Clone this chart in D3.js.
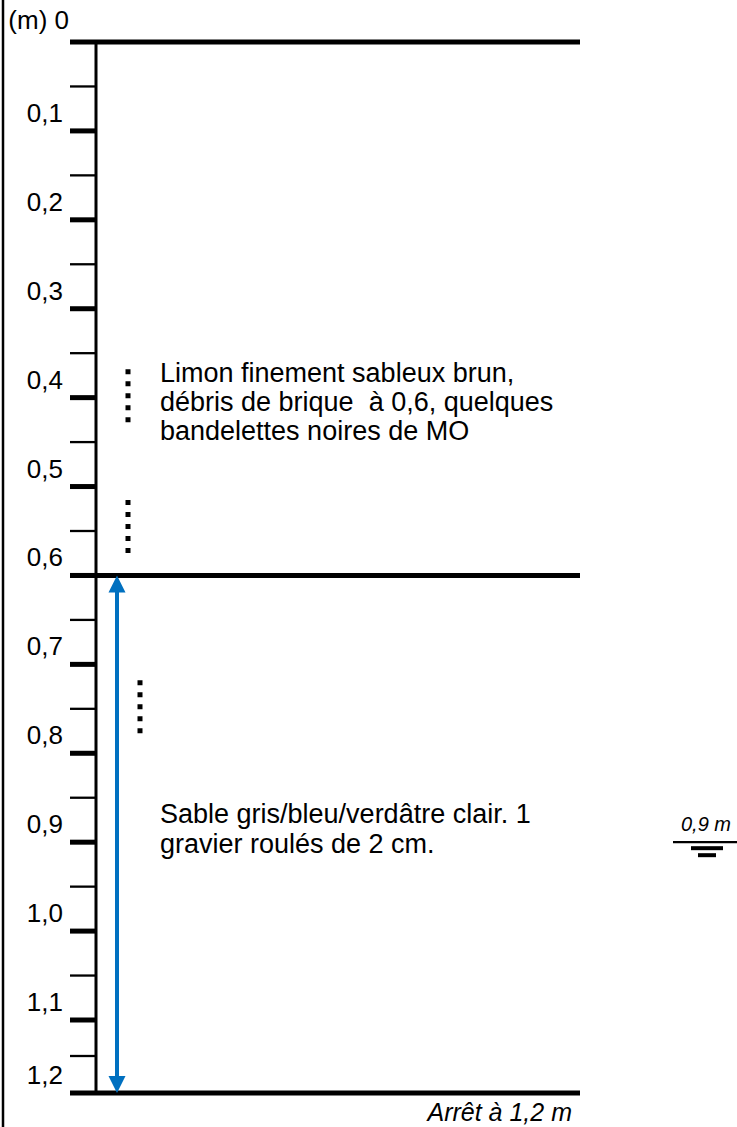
<!DOCTYPE html>
<html lang="fr">
<head>
    <meta charset="utf-8">
    <title>Log de sondage</title>
    <script type="text/javascript" src="https://d3js.org/d3.v7.min.js"></script>
    <style type="text/css">
        body { margin: 0; background: #fff; }
        svg { display: block; }
        text { font-family: "Liberation Sans", Arial, sans-serif; fill: #000; white-space: pre; }
    </style>
</head>
<body>
<script type="text/javascript">

    // depths in metres
    var majorTicks = [0.1, 0.2, 0.3, 0.4, 0.5, 0.6, 0.7, 0.8, 0.9, 1.0, 1.1];
    var minorTicks = [0.05, 0.15, 0.25, 0.35, 0.45, 0.55, 0.65, 0.75, 0.85, 0.95, 1.05, 1.15];
    var tickLabels = ["0,1", "0,2", "0,3", "0,4", "0,5", "0,6", "0,7", "0,8", "0,9", "1,0", "1,1", "1,2"];
    var labelDepths = [0.1, 0.2, 0.3, 0.4, 0.5, 0.6, 0.7, 0.8, 0.9, 1.0, 1.1, 1.2];
    var layerBounds = [0, 0.6, 1.2];
    var dotStart = [0.368, 0.515, 0.718];
    var dotEnd = [0.428, 0.575, 0.778];
    var arrowRange = [0.6, 1.2];
    var waterDepth = 0.9;
    var layer1Text = ["Limon finement sableux brun,", "débris de brique  à 0,6, quelques", "bandelettes noires de MO"];
    var layer2Text = ["Sable gris/bleu/verdâtre clair. 1", "gravier roulés de 2 cm."];

    var width = 737, height = 1127;
    var blue = "#0070c0";

    var svg = d3.select("body")
        .append("svg")
        .attr("width", width)
        .attr("height", height);

    // the drawing squeezes the last 10 cm a little
    var y = d3.scaleLinear()
        .domain([0, 1.1, 1.15, 1.2])
        .range([42, 1020, 1056, 1093]);

    // left border
    svg.append("line")
        .attr("x1", 3).attr("x2", 3)
        .attr("y1", 0).attr("y2", height)
        .attr("stroke", "#000").attr("stroke-width", 2.5);

    // depth axis
    svg.append("line")
        .attr("x1", 96).attr("x2", 96)
        .attr("y1", y(0)).attr("y2", y(1.2))
        .attr("stroke", "#000").attr("stroke-width", 3);

    svg.selectAll(".minor")
        .data(minorTicks)
        .enter().append("line")
        .attr("class", "minor")
        .attr("x1", 70).attr("x2", 96)
        .attr("y1", function(d) { return y(d); })
        .attr("y2", function(d) { return y(d); })
        .attr("stroke", "#000").attr("stroke-width", 2.3);

    svg.selectAll(".major")
        .data(majorTicks)
        .enter().append("line")
        .attr("class", "major")
        .attr("x1", 70).attr("x2", 96)
        .attr("y1", function(d) { return y(d); })
        .attr("y2", function(d) { return y(d); })
        .attr("stroke", "#000").attr("stroke-width", 5);

    svg.selectAll(".lbl")
        .data(labelDepths)
        .enter().append("text")
        .attr("class", "lbl")
        .attr("x", 63)
        .attr("y", function(d) { return y(d) - 9; })
        .attr("text-anchor", "end")
        .attr("font-size", 26)
        .text(function(d, i) { return tickLabels[i]; });

    svg.append("text")
        .attr("x", 69).attr("y", y(0) - 13)
        .attr("text-anchor", "end")
        .attr("font-size", 26)
        .text("(m) 0");

    // layer boundaries
    svg.selectAll(".layer")
        .data(layerBounds)
        .enter().append("line")
        .attr("class", "layer")
        .attr("x1", 70).attr("x2", 580)
        .attr("y1", function(d) { return y(d); })
        .attr("y2", function(d) { return y(d); })
        .attr("stroke", "#000").attr("stroke-width", 5);

    // dotted marks
    var dotX = [128, 128, 140];
    svg.selectAll(".dots")
        .data(dotStart)
        .enter().append("line")
        .attr("class", "dots")
        .attr("x1", function(d, i) { return dotX[i]; })
        .attr("x2", function(d, i) { return dotX[i]; })
        .attr("y1", function(d) { return y(d); })
        .attr("y2", function(d, i) { return y(dotEnd[i]); })
        .attr("stroke", "#000").attr("stroke-width", 5)
        .attr("stroke-dasharray", "5,7");

    // blue double arrow
    var ax = 117, head = 17, hw = 8.5;
    var arrTop = y(arrowRange[0]), arrBot = y(arrowRange[1]);
    svg.append("line")
        .attr("x1", ax).attr("x2", ax)
        .attr("y1", arrTop + head - 1).attr("y2", arrBot - head + 1)
        .attr("stroke", blue).attr("stroke-width", 4);
    svg.append("path")
        .attr("d", "M" + ax + "," + arrTop + "L" + (ax + hw) + "," + (arrTop + head) + "L" + (ax - hw) + "," + (arrTop + head) + "Z")
        .attr("fill", blue);
    svg.append("path")
        .attr("d", "M" + ax + "," + arrBot + "L" + (ax + hw) + "," + (arrBot - head) + "L" + (ax - hw) + "," + (arrBot - head) + "Z")
        .attr("fill", blue);

    // descriptions
    svg.append("text")
        .attr("x", 160).attr("y", y(0.3825))
        .attr("font-size", 27)
        .selectAll("tspan")
        .data(layer1Text)
        .enter().append("tspan")
        .attr("x", 160)
        .attr("dy", function(d, i) { return i ? 29 : 0; })
        .text(function(d) { return d; });

    svg.append("text")
        .attr("x", 160).attr("y", y(0.878))
        .attr("font-size", 27)
        .selectAll("tspan")
        .data(layer2Text)
        .enter().append("tspan")
        .attr("x", 160)
        .attr("dy", function(d, i) { return i ? 30 : 0; })
        .text(function(d) { return d; });

    // water level
    var wy = y(waterDepth);
    svg.append("text")
        .attr("x", 706).attr("y", wy - 11.5)
        .attr("text-anchor", "middle")
        .attr("font-size", 20)
        .attr("font-style", "italic")
        .text("0,9 m");
    svg.append("line")
        .attr("x1", 673).attr("x2", 737)
        .attr("y1", wy).attr("y2", wy)
        .attr("stroke", "#000").attr("stroke-width", 2.3);
    svg.append("line")
        .attr("x1", 691).attr("x2", 723)
        .attr("y1", wy + 6).attr("y2", wy + 6)
        .attr("stroke", "#000").attr("stroke-width", 4);
    svg.append("line")
        .attr("x1", 698).attr("x2", 716)
        .attr("y1", wy + 13).attr("y2", wy + 13)
        .attr("stroke", "#000").attr("stroke-width", 4);

    svg.append("text")
        .attr("x", 572).attr("y", y(1.2) + 28)
        .attr("text-anchor", "end")
        .attr("font-size", 25)
        .attr("font-style", "italic")
        .text("Arrêt à 1,2 m");

</script>
</body>
</html>
